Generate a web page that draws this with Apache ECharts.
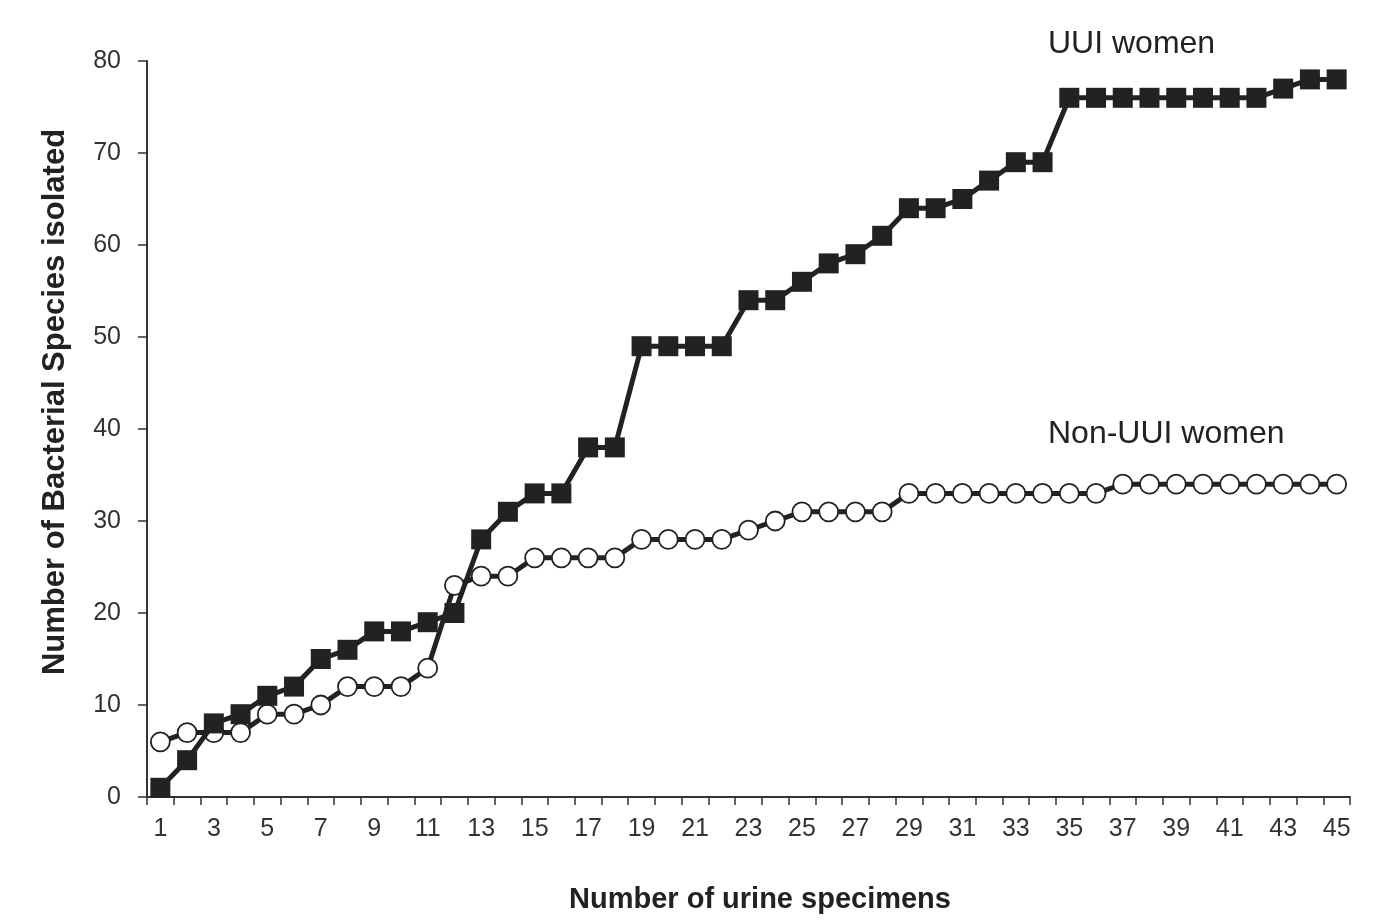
<!DOCTYPE html>
<html>
<head>
<meta charset="utf-8">
<style>
  html, body { margin: 0; padding: 0; background: #fff; }
  #chart { width: 1393px; height: 924px; }
</style>
<script src="https://cdn.jsdelivr.net/npm/echarts@6/dist/echarts.min.js"></script>
</head>
<body>
<div id="chart"></div>
<script>
// Cumulative number of bacterial species isolated per urine specimen count
const specimens = Array.from({ length: 45 }, (_, i) => String(i + 1));

const uuiWomen = [
  1, 4, 8, 9, 11, 12, 15, 16, 18, 18,
  19, 20, 28, 31, 33, 33, 38, 38, 49, 49,
  49, 49, 54, 54, 56, 58, 59, 61, 64, 64,
  65, 67, 69, 69, 76, 76, 76, 76, 76, 76,
  76, 76, 77, 78, 78
];

const nonUuiWomen = [
  6, 7, 7, 7, 9, 9, 10, 12, 12, 12,
  14, 23, 24, 24, 26, 26, 26, 26, 28, 28,
  28, 28, 29, 30, 31, 31, 31, 31, 33, 33,
  33, 33, 33, 33, 33, 33, 34, 34, 34, 34,
  34, 34, 34, 34, 34
];

const yTicks = [0, 10, 20, 30, 40, 50, 60, 70, 80];

const ink = '#222';
const axisColor = '#333';
const fontFamily = 'Liberation Sans, Arial, sans-serif';

const chart = echarts.init(document.getElementById('chart'), null, { renderer: 'canvas' });

chart.setOption({
  backgroundColor: '#fff',
  animation: false,
  grid: { left: 147, right: 43, top: 61, bottom: 127, containLabel: false },
  xAxis: {
    type: 'category',
    data: specimens,
    boundaryGap: true,
    axisLine: { lineStyle: { color: axisColor, width: 2 } },
    axisTick: { show: true, interval: 0, length: 8, lineStyle: { color: axisColor, width: 1.5 } },
    axisLabel: {
      interval: 1,
      color: axisColor,
      fontSize: 25,
      fontFamily: fontFamily,
      margin: 20
    },
    splitLine: { show: false }
  },
  yAxis: {
    type: 'value',
    min: yTicks[0],
    max: yTicks[yTicks.length - 1],
    interval: 10,
    axisLine: { show: true, lineStyle: { color: axisColor, width: 2 } },
    axisTick: { show: true, length: 9, lineStyle: { color: axisColor, width: 1.5 } },
    axisLabel: {
      color: axisColor,
      fontSize: 25,
      fontFamily: fontFamily,
      margin: 26
    },
    splitLine: { show: false }
  },
  series: [
    {
      name: 'Non-UUI women',
      type: 'line',
      data: nonUuiWomen,
      symbol: 'circle',
      symbolSize: 19,
      showAllSymbol: true,
      lineStyle: { color: ink, width: 5 },
      itemStyle: { color: '#fff', borderColor: ink, borderWidth: 1.8 },
      z: 2
    },
    {
      name: 'UUI women',
      type: 'line',
      data: uuiWomen,
      symbol: 'rect',
      symbolSize: 20,
      showAllSymbol: true,
      lineStyle: { color: ink, width: 5 },
      itemStyle: { color: ink },
      z: 3
    }
  ],
  graphic: [
    {
      type: 'text',
      left: 1048,
      top: 28,
      style: { text: 'UUI women', fill: ink, fontSize: 32, fontFamily: fontFamily }
    },
    {
      type: 'text',
      left: 1048,
      top: 418,
      style: { text: 'Non-UUI women', fill: ink, fontSize: 32, fontFamily: fontFamily }
    },
    {
      type: 'text',
      x: 760,
      y: 900,
      style: {
        text: 'Number of urine specimens',
        fill: ink,
        fontSize: 29,
        fontWeight: 'bold',
        fontFamily: fontFamily,
        align: 'center',
        verticalAlign: 'middle'
      }
    },
    {
      type: 'text',
      x: 55,
      y: 402,
      rotation: Math.PI / 2,
      style: {
        text: 'Number of Bacterial Species isolated',
        fill: ink,
        fontSize: 31,
        fontWeight: 'bold',
        fontFamily: fontFamily,
        align: 'center',
        verticalAlign: 'middle'
      }
    }
  ]
});
</script>
</body>
</html>
